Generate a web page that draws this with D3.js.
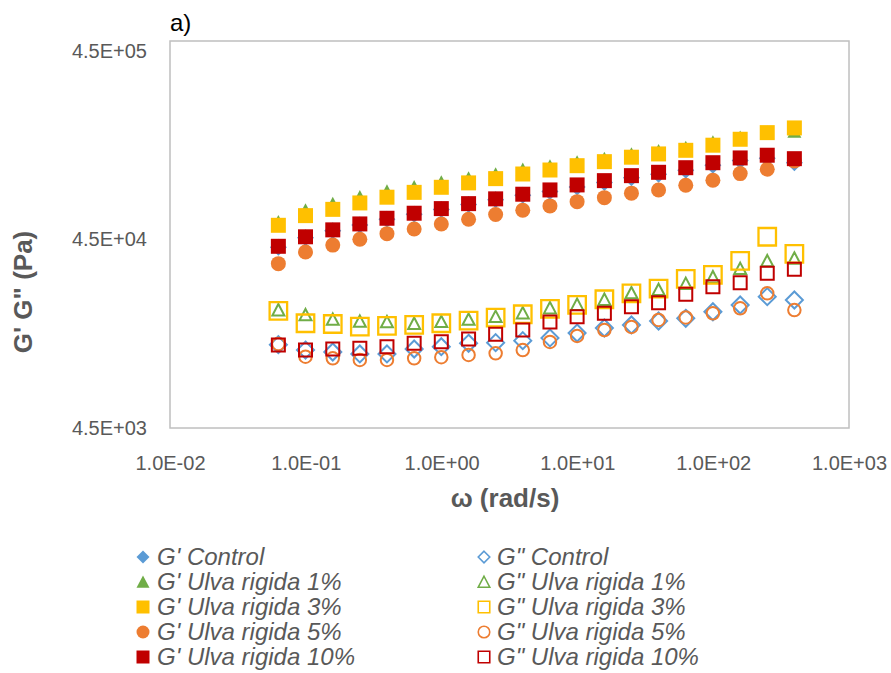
<!DOCTYPE html>
<html>
<head>
<meta charset="utf-8">
<script src="https://cdn.jsdelivr.net/npm/d3@7/dist/d3.min.js"></script>
<style>
  html, body { margin: 0; padding: 0; background: #fff; }
  svg { display: block; font-family: "Liberation Sans", Arial, sans-serif; }
</style>
</head>
<body>
<svg id="chart" width="891" height="673"></svg>
<script>
// Angular frequency sweep (rad/s)
const omega = [0.0628, 0.0995, 0.158, 0.25, 0.396, 0.628, 0.995, 1.58, 2.5, 3.96,
               6.28, 9.95, 15.8, 25, 39.6, 62.8, 99.5, 158, 250, 396];

// Storage modulus G' (Pa)
const gpControl = [40900, 45900, 50000, 53700, 57600, 61200, 64800, 68900, 73000, 77300,
                   80900, 85500, 90100, 95700, 99700, 104800, 111400, 118100, 121400, 114900];
const gpUlva1  = [55700, 64300, 69700, 75600, 81000, 85500, 90500, 95000, 99800, 105600,
                  110000, 115500, 120700, 127500, 132700, 138100, 147500, 156100, 166300, 168400];
const gpUlva3  = [53500, 60200, 65000, 70300, 75400, 80000, 85100, 89800, 94600, 100100,
                  105100, 110800, 116400, 122900, 127900, 133700, 142300, 153000, 165900, 175700];
const gpUlva5  = [33500, 38600, 42000, 45100, 48300, 51100, 54400, 57600, 61000, 64300,
                  67800, 71400, 75000, 79200, 82400, 87200, 92800, 100600, 106100, 117400];
const gpUlva10 = [41400, 46500, 50600, 54400, 58300, 62000, 65600, 69700, 73900, 78200,
                  82400, 87600, 92300, 98100, 102200, 108100, 114900, 121800, 125900, 120700];

// Loss modulus G'' (Pa)
const gppControl = [12450, 11660, 11390, 11120, 11120, 11810, 12150, 12660, 12760, 13080,
                    13520, 14350, 15260, 15840, 16630, 17180, 18620, 20220, 22380, 21490];
const gppUlva1  = [19010, 17900, 16940, 16530, 16430, 16120, 16480, 16940, 17530, 18330,
                   19490, 20340, 21620, 23410, 24370, 26230, 28460, 31520, 34610, 35760];
const gppUlva3  = [18800, 16170, 16030, 15510, 15650, 15840, 16170, 16690, 17310, 18050,
                   19260, 20220, 21680, 23320, 24680, 27780, 29170, 34610, 46520, 37700];
const gppUlva5  = [12560, 10750, 10540, 10330, 10330, 10540, 10680, 10980, 11210, 11660,
                   12870, 13850, 14890, 15450, 16830, 17360, 18270, 19420, 23320, 19010];
const gppUlva10 = [12400, 11660, 11810, 11920, 12150, 12660, 12920, 13350, 14140, 14890,
                   16430, 17530, 18270, 19800, 20800, 23040, 25280, 26550, 29780, 31280];

// Axis tick values
const xTicks = [0.01, 0.1, 1, 10, 100, 1000];
const yTicks = [4500, 45000, 450000];

// Series in legend order (row by row: G' left column, G'' right column)
const series = [
  { name: "G' Control",          values: gpControl,  shape: "diamond",  color: "#5B9BD5", filled: true,  size: 17 },
  { name: "G\" Control",         values: gppControl, shape: "diamond",  color: "#5B9BD5", filled: false, size: 17, sw: 2 },
  { name: "G' Ulva rigida 1%",   values: gpUlva1,    shape: "triangle", color: "#70AD47", filled: true,  size: 14 },
  { name: "G\" Ulva rigida 1%",  values: gppUlva1,   shape: "triangle", color: "#70AD47", filled: false, size: 12, sw: 2 },
  { name: "G' Ulva rigida 3%",   values: gpUlva3,    shape: "square",   color: "#FFC000", filled: true,  size: 15 },
  { name: "G\" Ulva rigida 3%",  values: gppUlva3,   shape: "square",   color: "#FFC000", filled: false, size: 17.5, sw: 2.3 },
  { name: "G' Ulva rigida 5%",   values: gpUlva5,    shape: "circle",   color: "#ED7D31", filled: true,  size: 15 },
  { name: "G\" Ulva rigida 5%",  values: gppUlva5,   shape: "circle",   color: "#ED7D31", filled: false, size: 12.5, sw: 2 },
  { name: "G' Ulva rigida 10%",  values: gpUlva10,   shape: "square",   color: "#C00000", filled: true,  size: 15 },
  { name: "G\" Ulva rigida 10%", values: gppUlva10,  shape: "square",   color: "#C00000", filled: false, size: 13, sw: 2 }
];

// Marker outline centred on the origin, s = overall width of the marker box
function markerPath(shape, s) {
  const h = s / 2;
  const p = d3.path();
  if (shape === "square") {
    p.rect(-h, -h, s, s);
  } else if (shape === "diamond") {
    p.moveTo(0, -h); p.lineTo(h, 0); p.lineTo(0, h); p.lineTo(-h, 0); p.closePath();
  } else if (shape === "triangle") {
    p.moveTo(0, -h); p.lineTo(h, h * 0.9); p.lineTo(-h, h * 0.9); p.closePath();
  } else {
    p.moveTo(h, 0); p.arc(0, 0, h, 0, 2 * Math.PI); p.closePath();
  }
  return p.toString();
}

function sci(v) {
  const [m, e] = v.toExponential(1).split("e");
  const sign = e[0] === "-" ? "-" : "+";
  const digits = e.replace(/[+-]/, "").padStart(2, "0");
  return m + "E" + sign + digits;
}

const svg = d3.select("#chart");
const plot = { left: 170, right: 849, top: 41, bottom: 428 };

const x = d3.scaleLog().domain([0.01, 1000]).range([plot.left, plot.right]);
const y = d3.scaleLog().domain([4500, 508000]).range([plot.bottom, plot.top]);

// Plot area frame
svg.append("rect")
  .attr("x", plot.left).attr("y", plot.top)
  .attr("width", plot.right - plot.left).attr("height", plot.bottom - plot.top)
  .attr("fill", "none").attr("stroke", "#BFBFBF").attr("stroke-width", 1.5);

// Axes (labels only)
const xAxis = svg.append("g")
  .attr("transform", `translate(0,${plot.bottom})`)
  .call(d3.axisBottom(x).tickValues(xTicks).tickFormat(sci).tickSize(0).tickPadding(28));
const yAxis = svg.append("g")
  .attr("transform", `translate(${plot.left},0)`)
  .call(d3.axisLeft(y).tickValues(yTicks).tickFormat(sci).tickSize(0).tickPadding(23));
[xAxis, yAxis].forEach(g => {
  g.select(".domain").remove();
  g.selectAll("text")
    .attr("fill", "#595959")
    .style("font-size", "20px")
    .style("font-family", "'Liberation Sans', Arial, sans-serif");
});

// Axis titles
svg.append("text")
  .attr("x", 505).attr("y", 507)
  .attr("text-anchor", "middle")
  .attr("fill", "#595959")
  .style("font-size", "26px").style("font-weight", "bold")
  .text("ω (rad/s)");

svg.append("text")
  .attr("transform", "translate(32,292) rotate(-90)")
  .attr("text-anchor", "middle")
  .attr("fill", "#595959")
  .style("font-size", "26px").style("font-weight", "bold")
  .text("G' G\" (Pa)");

// Panel label
svg.append("text")
  .attr("x", 170).attr("y", 31)
  .attr("fill", "#000")
  .style("font-size", "24px")
  .text("a)");

// Data markers
const marks = svg.append("g");
series.forEach(s => {
  marks.append("g")
    .selectAll("path")
    .data(s.values.map((v, i) => [omega[i], v]))
    .join("path")
    .attr("transform", d => `translate(${x(d[0])},${y(d[1])})`)
    .attr("d", markerPath(s.shape, s.size))
    .attr("fill", s.filled ? s.color : "none")
    .attr("stroke", s.filled ? "none" : s.color)
    .attr("stroke-width", s.filled ? 0 : s.sw);
});

// Legend: two columns, five rows
const legend = svg.append("g");
series.forEach((s, i) => {
  const col = i % 2, row = Math.floor(i / 2);
  const mx = col === 0 ? 143 : 484;
  const tx = col === 0 ? 157 : 497;
  const cy = 557 + row * 25;
  const ls = s.filled ? 13 : 11.5;
  legend.append("path")
    .attr("transform", `translate(${mx},${cy})`)
    .attr("d", markerPath(s.shape, ls))
    .attr("fill", s.filled ? s.color : "none")
    .attr("stroke", s.filled ? "none" : s.color)
    .attr("stroke-width", s.filled ? 0 : 1.6);
  legend.append("text")
    .attr("x", tx).attr("y", cy).attr("dy", "0.35em")
    .attr("fill", "#595959")
    .style("font-size", "24px").style("font-style", "italic")
    .text(s.name);
});
</script>
</body>
</html>
